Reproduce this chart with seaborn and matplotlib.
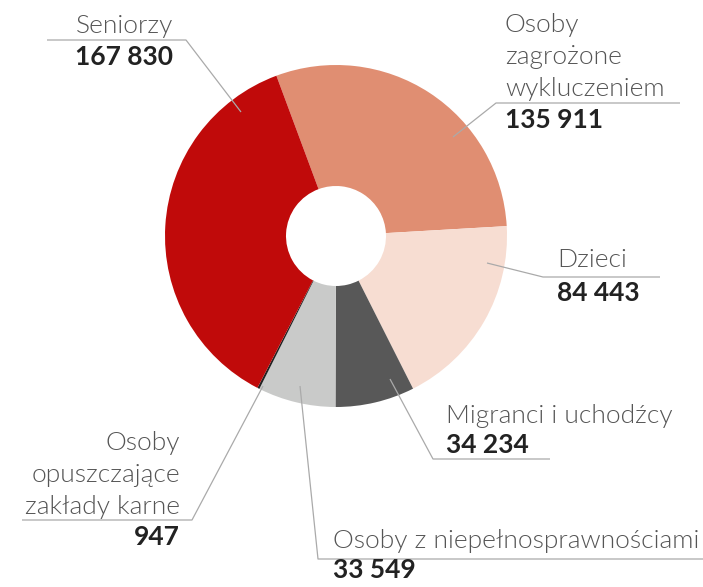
import matplotlib
matplotlib.use("Agg")
import matplotlib.pyplot as plt
import seaborn as sns

# data, clockwise from the top
groups = ["Osoby\nzagrożone\nwykluczeniem", "Dzieci", "Migranci i uchodźcy",
          "Osoby z niepełnosprawnościami", "Osoby\nopuszczające\nzakłady karne", "Seniorzy"]
counts = [135911, 84443, 34234, 33549, 947, 167830]
colors = ["#E08E72", "#F7DDD2", "#585858", "#C9CAC9", "#222222", "#C00A0A"]

sns.set_theme(style="white")
plt.rcParams['font.family'] = ['Lato', 'DejaVu Sans']

W, H = 703, 587
fig = plt.figure(figsize=(W / 100, H / 100), dpi=100)
ax = fig.add_axes([0, 0, 1, 1])
ax.axis("off")

cx, cy = 336, H - 236
R = 171
ax.pie(counts, colors=sns.color_palette(colors), startangle=110.4, counterclock=False,
       center=(cx, cy), radius=R, wedgeprops=dict(width=R - 50, linewidth=0))
ax.set_xlim(0, W)
ax.set_ylim(0, H)
ax.set_aspect("equal")

# label layout: anchor in slice, elbow, end of underline, text x, alignment, baseline of first line, number baseline
layout = {
    "Seniorzy": dict(a=(241, 112), e=(186, 40), end=47, tx=173, ha="right", y0=33, ny=65),
    "Osoby\nzagrożone\nwykluczeniem": dict(a=(453, 137), e=(496, 103), end=680, tx=505, ha="left", y0=32, ny=128),
    "Dzieci": dict(a=(487, 263), e=(543, 277), end=660, tx=557, ha="left", y0=267, ny=301),
    "Migranci i uchodźcy": dict(a=(390, 379), e=(433, 459), end=550, tx=446, ha="left", y0=423, ny=453),
    "Osoby z niepełnosprawnościami": dict(a=(300, 386), e=(318, 559), end=703, tx=333, ha="left", y0=548, ny=578),
    "Osoby\nopuszczające\nzakłady karne": dict(a=(263, 386), e=(192, 520), end=22, tx=180, ha="right", y0=450, ny=545),
}

for g, v in zip(groups, counts):
    L = layout[g]
    xs = [L["a"][0], L["e"][0], L["end"]]
    ys = [H - L["a"][1], H - L["e"][1], H - L["e"][1]]
    ax.plot(xs, ys, color="#AAAAAA", lw=0.9, solid_capstyle="butt")
    for i, line in enumerate(g.split("\n")):
        ax.text(L["tx"], H - (L["y0"] + i * 32), line, ha=L["ha"], va="baseline",
                fontsize=19, fontweight=300, color="#555555")
    ax.text(L["tx"], H - L["ny"], f"{v:,}".replace(",", " "), ha=L["ha"], va="baseline",
            fontsize=19, fontweight="bold", color="#222222")

fig.savefig("out.png", dpi=100)
